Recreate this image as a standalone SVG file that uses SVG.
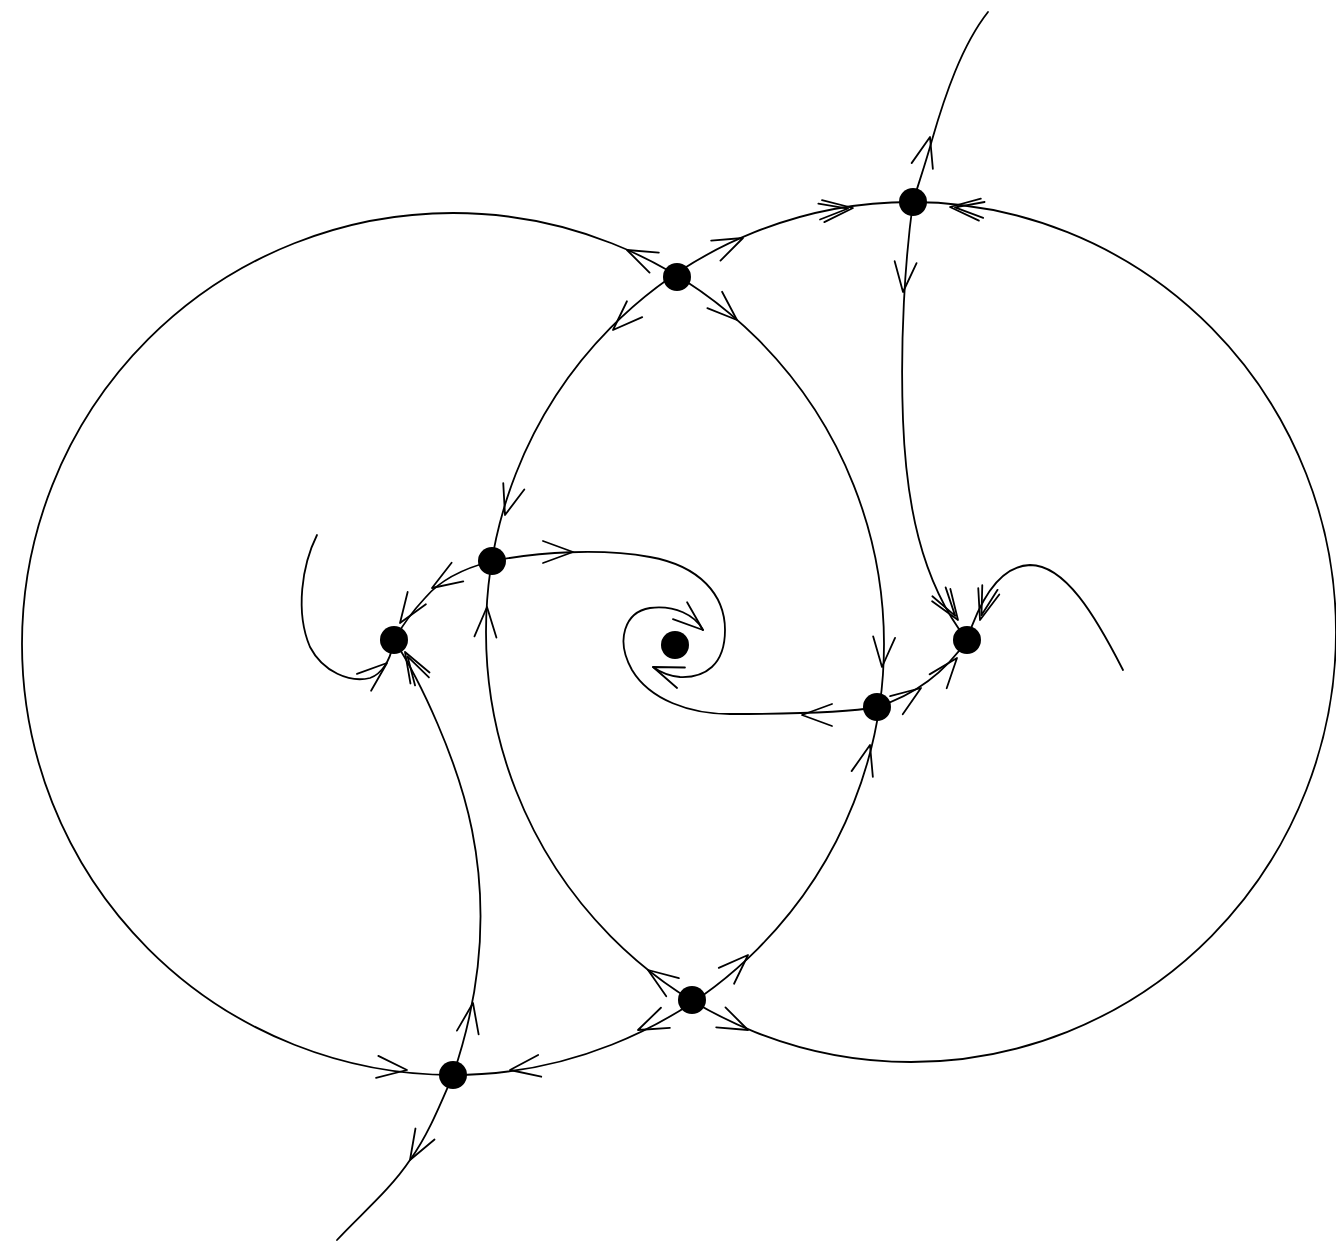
<svg xmlns="http://www.w3.org/2000/svg" xmlns:xlink="http://www.w3.org/1999/xlink" width="1336" height="1250" viewBox="0 0 1336 1250">
<style>
.c{fill:none;stroke:#000;stroke-width:1.8;stroke-linecap:round;stroke-linejoin:round}
.n{fill:#000}
</style>
<defs>
<path id="a" class="c" d="M-30,-11 L0,0 L-30,11"/>
<g id="a2"><path class="c" d="M-30,-11 L0,0 L-30,11"/><path class="c" d="M-34,-8 L-5,0 L-34,8"/></g>
</defs>
<rect width="1336" height="1250" fill="#fff"/>
<g id="connectors">
<circle class="c" cx="453" cy="644" r="431"/>
<ellipse class="c" cx="911" cy="632" rx="425" ry="430"/>
<path class="c" d="M988,12 C962,45 945,95 932,140 C926,162 918,185 913,202"/>
<path class="c" d="M913,202 C905,260 900,340 903,420 C906,500 920,580 967,640"/>
<path class="c" d="M967,640 C980,600 1000,566 1030,565 C1065,565 1095,615 1123,670"/>
<path class="c" d="M877,707 C905,698 940,680 967,640"/>
<path class="c" d="M877,707 C850,712 800,714 730,714 C690,714 650,700 632,670 C615,640 625,612 650,608 C675,605 695,615 703,630"/>
<path class="c" d="M492,561 C540,552 600,548 650,557 C700,566 725,595 725,630 C725,665 705,678 680,677 C668,676 660,672 653,667"/>
<path class="c" d="M492,561 C465,568 440,580 425,598 C412,612 402,626 394,640"/>
<path class="c" d="M317,535 C302,565 295,612 310,647 C323,672 350,683 370,678 C382,674 390,660 393,645"/>
<path class="c" d="M394,640 C420,680 458,760 472,830 C488,910 482,990 453,1075"/>
<path class="c" d="M453,1075 C440,1105 428,1135 410,1160 C390,1190 360,1215 337,1240"/>
<!-- arrowheads -->
<use xlink:href="#a" transform="translate(930,137) rotate(-75)"/>
<use xlink:href="#a2" transform="translate(853,208) rotate(-6)"/>
<use xlink:href="#a2" transform="translate(950,207) rotate(185)"/>
<use xlink:href="#a" transform="translate(903,292) rotate(95)"/>
<use xlink:href="#a" transform="translate(627,250) rotate(205)"/>
<use xlink:href="#a" transform="translate(743,238) rotate(-25)"/>
<use xlink:href="#a" transform="translate(613,330) rotate(136)"/>
<use xlink:href="#a" transform="translate(737,320) rotate(42)"/>
<use xlink:href="#a" transform="translate(505,515) rotate(107)"/>
<use xlink:href="#a" transform="translate(573,552) rotate(0)"/>
<use xlink:href="#a" transform="translate(487,607) rotate(-87)"/>
<use xlink:href="#a" transform="translate(432,588) rotate(148)"/>
<use xlink:href="#a" transform="translate(400,623) rotate(124)"/>
<use xlink:href="#a" transform="translate(387,663) rotate(-40)"/>
<use xlink:href="#a2" transform="translate(405,652) rotate(240)"/>
<use xlink:href="#a" transform="translate(473,1003) rotate(-80)"/>
<use xlink:href="#a" transform="translate(410,1160) rotate(120)"/>
<use xlink:href="#a" transform="translate(407,1070) rotate(6)"/>
<use xlink:href="#a" transform="translate(510,1070) rotate(172)"/>
<use xlink:href="#a" transform="translate(648,970) rotate(215)"/>
<use xlink:href="#a" transform="translate(748,955) rotate(-44)"/>
<use xlink:href="#a" transform="translate(638,1030) rotate(156)"/>
<use xlink:href="#a" transform="translate(748,1030) rotate(25)"/>
<use xlink:href="#a" transform="translate(870,745) rotate(-75)"/>
<use xlink:href="#a" transform="translate(882,667) rotate(94)"/>
<use xlink:href="#a" transform="translate(802,715) rotate(180)"/>
<use xlink:href="#a" transform="translate(921,688) rotate(-35)"/>
<use xlink:href="#a" transform="translate(957,658) rotate(-51)"/>
<use xlink:href="#a2" transform="translate(958,620) rotate(56)"/>
<use xlink:href="#a2" transform="translate(980,620) rotate(107)"/>
<use xlink:href="#a" transform="translate(703,630) rotate(40)"/>
<use xlink:href="#a" transform="translate(653,667) rotate(201)"/>
</g>
<g id="n1"><circle class="n" cx="913" cy="202" r="14"/></g>
<g id="n2"><circle class="n" cx="677" cy="277" r="14"/></g>
<g id="n3"><circle class="n" cx="492" cy="561" r="14"/></g>
<g id="n4"><circle class="n" cx="394" cy="640" r="14"/></g>
<g id="n5"><circle class="n" cx="675" cy="645" r="14"/></g>
<g id="n6"><circle class="n" cx="877" cy="707" r="14"/></g>
<g id="n7"><circle class="n" cx="967" cy="640" r="14"/></g>
<g id="n8"><circle class="n" cx="692" cy="1000" r="14"/></g>
<g id="n9"><circle class="n" cx="453" cy="1075" r="14"/></g>
</svg>
